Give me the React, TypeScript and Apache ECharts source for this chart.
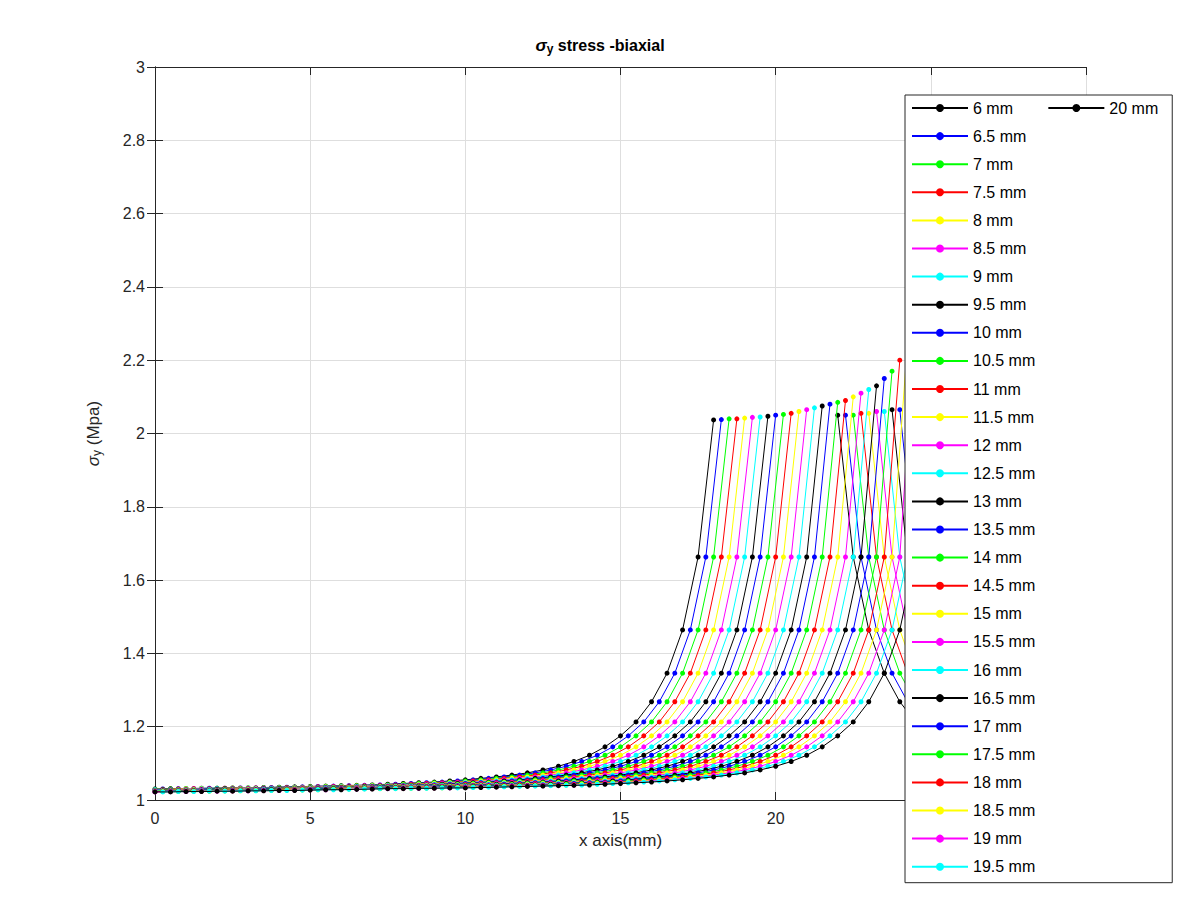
import React, { useEffect, useRef } from 'react';
import * as echarts from 'echarts';

// hole sizes (legend)
const sizes = [6, 6.5, 7, 7.5, 8, 8.5, 9, 9.5, 10, 10.5, 11, 11.5, 12, 12.5, 13, 13.5, 14, 14.5, 15, 15.5, 16, 16.5, 17, 17.5, 18, 18.5, 19, 19.5, 20];
const colorCycle = ['#000000', '#0000ff', '#00ff00', '#ff0000', '#ffff00', '#ff00ff', '#00ffff'];

// left-branch edge position and peak value per series
const leftEdge = [18, 18.25, 18.5, 18.75, 19, 19.25, 19.5, 19.75, 20, 20.25, 20.5, 20.75, 21, 21.25, 21.5, 21.75, 22, 22.25, 22.5, 22.75, 23, 23.25, 23.5, 23.75, 24, 24.25, 24.5, 24.75, 25];
const leftPeak = [2.037, 2.038, 2.04, 2.04, 2.042, 2.044, 2.045, 2.047, 2.05, 2.052, 2.055, 2.06, 2.065, 2.07, 2.075, 2.08, 2.085, 2.09, 2.1, 2.11, 2.12, 2.13, 2.15, 2.17, 2.2, 2.25, 2.3, 2.37, 2.45];

// right-branch start position, start value and value at x = 29.5
const rightEdge = [22, 22.25, 22.5, 22.75, 23, 23.25, 23.5, 23.75, 24, 24.25, 24.5, 24.75, 25, 25.25, 25.5, 25.75, 26, 26.25, 26.5, 26.75, 27, 27.25, 27.5, 27.75, 28, 28.25, 28.5, 28.75, 29];
const rightStart = [2.05, 2.05, 2.05, 2.055, 2.055, 2.06, 2.06, 2.065, 2.065, 2.07, 2.07, 2.075, 2.08, 2.085, 2.09, 2.095, 2.1, 2.11, 2.12, 2.14, 2.16, 2.18, 2.2, 2.23, 2.26, 2.3, 2.35, 2.4, 2.48];
const rightEnd = [1.085, 1.09, 1.095, 1.1, 1.105, 1.11, 1.115, 1.12, 1.13, 1.14, 1.15, 1.16, 1.17, 1.185, 1.2, 1.22, 1.24, 1.26, 1.285, 1.315, 1.35, 1.385, 1.43, 1.49, 1.56, 1.65, 1.77, 1.92, 2.2];

// stress, by 0.5 mm step away from the hole edge
const profile = [2.04, 1.663, 1.464, 1.346, 1.268, 1.213, 1.175, 1.145, 1.122, 1.105, 1.092, 1.082, 1.074, 1.068, 1.063, 1.059, 1.055, 1.052, 1.049, 1.047, 1.045, 1.043, 1.041, 1.04, 1.039, 1.038, 1.037, 1.036, 1.035, 1.034, 1.033, 1.033, 1.032, 1.032, 1.031, 1.031, 1.03, 1.029, 1.028, 1.028, 1.027, 1.026, 1.026, 1.025, 1.025, 1.024, 1.024, 1.023, 1.023, 1.022, 1.022];

const yTicks = [1, 1.2, 1.4, 1.6, 1.8, 2, 2.2, 2.4, 2.6, 2.8, 3];

function leftData(k: number) {
  const pts: number[][] = [];
  for (let j = 0; leftEdge[k] - 0.5 * j >= 0; j++) {
    pts.unshift([leftEdge[k] - 0.5 * j, j === 0 ? leftPeak[k] : profile[Math.min(j, profile.length - 1)]]);
  }
  return pts;
}

function rightData(k: number) {
  const xs: number[] = [];
  for (let x = rightEdge[k]; x <= 29.5; x += 0.5) xs.push(x);
  if (xs[xs.length - 1] < 29.5) xs.push(29.5);
  const last = xs.length - 1;
  return xs.map((x, j) => {
    if (j === 0) return [x, rightStart[k]];
    if (j === last) return [x, rightEnd[k]];
    const w = Math.pow(j / last, 4);
    return [x, profile[j] + (rightEnd[k] - profile[Math.min(last, profile.length - 1)]) * w];
  });
}

const App: React.FC = () => {
  const chartRef = useRef<HTMLDivElement>(null);

  useEffect(() => {
    if (!chartRef.current) return;
    const chart = echarts.init(chartRef.current, undefined, { renderer: 'svg' });
    const font = 'Liberation Sans, Arial, sans-serif';

    const series: any[] = [];
    sizes.forEach((s, k) => {
      const color = colorCycle[k % colorCycle.length];
      const base = {
        name: `${s} mm`,
        type: 'line',
        symbol: 'circle',
        symbolSize: 5,
        showSymbol: true,
        lineStyle: { width: 1, color },
        itemStyle: { color },
        z: 2 + k * 0.01
      };
      series.push({ ...base, data: leftData(k) });
      series.push({ ...base, data: rightData(k) });
    });

    const option: echarts.EChartsOption = {
      animation: false,
      backgroundColor: '#fff',
      textStyle: { fontFamily: font },
      title: {
        text: '{g|σ}{s|y}{b| stress -biaxial}',
        left: 'center',
        top: 30,
        textStyle: {
          rich: {
            g: { fontSize: 17, fontStyle: 'italic', fontFamily: font, color: '#000' },
            s: { fontSize: 12, fontWeight: 'bold', verticalAlign: 'bottom', padding: [8, 0, 0, 0], fontFamily: font, color: '#000' },
            b: { fontSize: 16, fontWeight: 'bold', fontFamily: font, color: '#000' }
          }
        }
      },
      legend: {
        orient: 'vertical',
        left: 905,
        top: 95,
        width: 158,
        itemWidth: 56,
        itemHeight: 10,
        itemGap: 12.1,
        padding: [5, 14, 8, 6],
        borderColor: '#262626',
        borderWidth: 1,
        backgroundColor: '#fff',
        textStyle: { fontSize: 16, color: '#000', fontFamily: font },
        data: sizes.map(s => `${s} mm`)
      },
      grid: { left: 155, right: 114, top: 67, bottom: 100 },
      xAxis: [
        {
          type: 'value', min: 0, max: 30, interval: 5,
          name: 'x axis(mm)', nameLocation: 'middle', nameGap: 32,
          nameTextStyle: { fontSize: 17, color: '#262626', fontFamily: font },
          axisLine: { onZero: false, lineStyle: { color: '#262626' } },
          axisTick: { inside: true, length: 8, lineStyle: { color: '#262626' } },
          axisLabel: { fontSize: 16, color: '#262626', margin: 10 },
          splitLine: { lineStyle: { color: '#dedede' } }
        },
        {
          type: 'value', min: 0, max: 30, interval: 5, position: 'top',
          axisLine: { show: true, lineStyle: { color: '#262626' } },
          axisTick: { inside: true, length: 8, lineStyle: { color: '#262626' } },
          axisLabel: { show: false }, splitLine: { show: false }
        }
      ],
      yAxis: [
        {
          type: 'value', min: 1, max: 3, interval: 0.2,
          name: '{g|σ}{s|y}{n| (Mpa)}', nameLocation: 'middle', nameGap: 52,
          nameTextStyle: {
            rich: {
              g: { fontSize: 17, fontStyle: 'italic', color: '#262626', fontFamily: font },
              s: { fontSize: 12, color: '#262626', padding: [8, 0, 0, 0], fontFamily: font },
              n: { fontSize: 17, color: '#262626', fontFamily: font }
            }
          },
          axisLine: { show: true, onZero: false, lineStyle: { color: '#262626' } },
          axisTick: { inside: true, length: 8, lineStyle: { color: '#262626' } },
          axisLabel: { fontSize: 16, color: '#262626', margin: 10, formatter: (v: number) => String(yTicks.find(t => Math.abs(t - v) < 1e-6) ?? +v.toFixed(1)) },
          splitLine: { lineStyle: { color: '#dedede' } }
        },
        {
          type: 'value', min: 1, max: 3, interval: 0.2, position: 'right',
          axisLine: { show: true, lineStyle: { color: '#262626' } },
          axisTick: { inside: true, length: 8, lineStyle: { color: '#262626' } },
          axisLabel: { show: false }, splitLine: { show: false }
        }
      ],
      series
    };

    chart.setOption(option);
    return () => chart.dispose();
  }, []);

  return <div ref={chartRef} style={{ width: 1200, height: 900, margin: -8 }} />;
};

export default App;
